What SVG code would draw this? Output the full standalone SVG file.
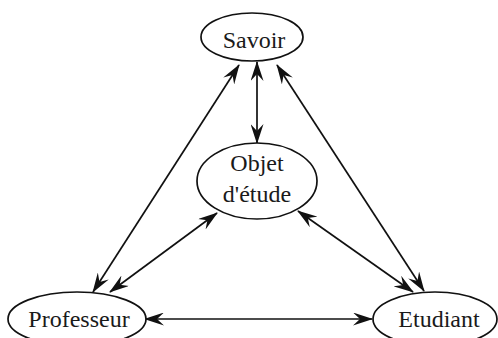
<svg xmlns="http://www.w3.org/2000/svg" width="498" height="338" viewBox="0 0 498 338">
<style>
.n ellipse{fill:#fff;stroke:#111;stroke-width:1.7}
.n text{font-family:'Liberation Serif','Times New Roman','DejaVu Serif',serif;font-size:24px;fill:#1a1a1a;text-anchor:middle}
.c line{stroke:#111;stroke-width:1.7;marker-start:url(#ah);marker-end:url(#ah)}
</style>
<defs>
<marker id="ah" viewBox="0 0 20 13" refX="19" refY="6.5" markerWidth="20" markerHeight="13" markerUnits="userSpaceOnUse" orient="auto-start-reverse">
<path d="M0,0 L20,6.5 L0,13 L7,6.5 z" fill="#111"/>
</marker>
</defs>
<g class="c">
<line x1="257" y1="62" x2="257" y2="143"/>
<line x1="239" y1="65" x2="93" y2="292"/>
<line x1="277" y1="65" x2="424" y2="291"/>
<line x1="217" y1="213" x2="110" y2="292"/>
<line x1="298" y1="211" x2="413" y2="292"/>
<line x1="145" y1="319" x2="372" y2="319"/>
</g>
<g id="savoir" class="n"><ellipse cx="252" cy="37" rx="51" ry="24"/><text x="254" y="48">Savoir</text></g>
<g id="objet" class="n"><ellipse cx="257" cy="181" rx="60" ry="38"/><text x="257" y="171">Objet</text><text x="257" y="202">d'étude</text></g>
<g id="professeur" class="n"><ellipse cx="77" cy="319" rx="69" ry="27"/><text x="79" y="327">Professeur</text></g>
<g id="etudiant" class="n"><ellipse cx="435" cy="319" rx="62" ry="27"/><text x="439" y="327">Etudiant</text></g>
</svg>
